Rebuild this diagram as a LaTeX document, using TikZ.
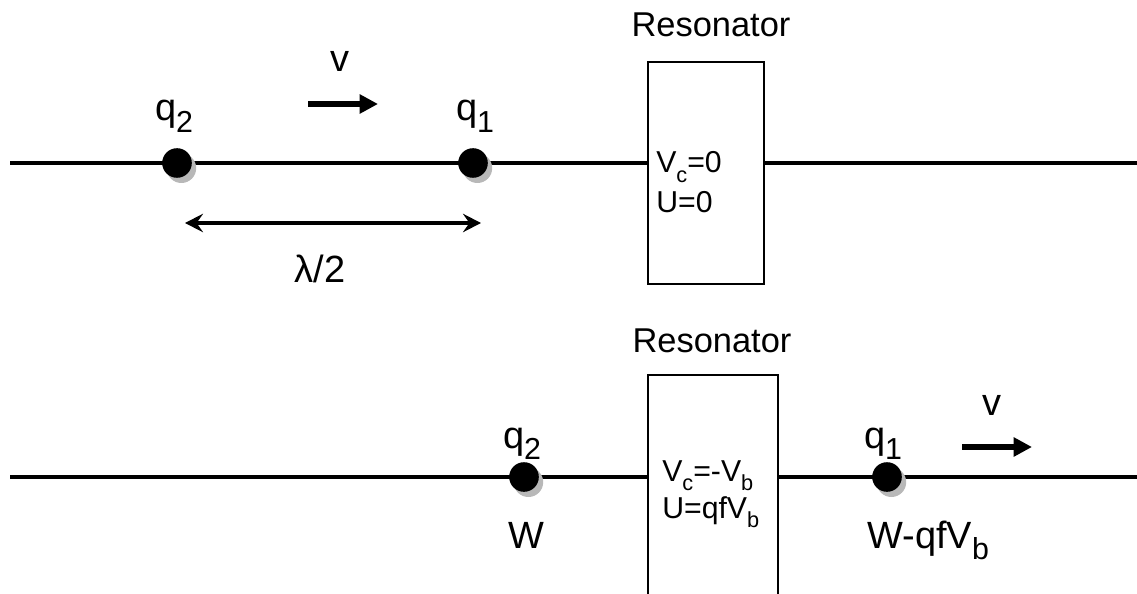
\documentclass[tikz,border=0pt]{standalone}
\usepackage{fontspec}
\setmainfont{Liberation Sans}
\usetikzlibrary{arrows.meta,shadows}
\newcommand{\lowsub}[2][0.8]{\raisebox{-0.3em}{\scalebox{#1}{#2}}}

\begin{document}
\begin{tikzpicture}[>={Stealth[length=4.5mm,width=4.6mm,inset=1.6mm]},font=\fontsize{27}{32}\selectfont,
  beam/.style={line width=3.2pt},
  reso/.style={draw,line width=1.4pt,fill=white,inner sep=0pt,minimum width=#1,minimum height=5.55cm},
  charge/.style={circle,fill=black,inner sep=0pt,minimum size=7.4mm,drop shadow={shadow xshift=1.1mm,shadow yshift=-1.3mm,fill=black!28,opacity=1}},
  vel/.style={-{Triangle[length=4.6mm,width=4.6mm]},line width=4pt},
  txt/.style={anchor=base,inner sep=0pt},
  inbox/.style={anchor=base west,inner sep=0pt,font=\fontsize{21.5}{25}\selectfont}]
\useasboundingbox (0,0) rectangle (28.425,14.825);
\coordinate (la) at (0.25,10.75);
\coordinate (lb) at (28.425,10.75);
\node[reso=2.9cm] (res1) at (17.65,10.5) {};
\draw[beam] (la) -- (la -| res1.west);
\draw[beam] (lb -| res1.east) -- (lb);
\node[charge] (q2a) at (4.425,10.75) {};
\node[charge] (q1a) at (11.825,10.75) {};
\node[txt] (lq2a) at (4.35,11.8) {q\lowsub{2}};
\node[txt] (lq1a) at (11.875,11.8) {q\lowsub{1}};
\coordinate (va) at (7.7,12.225);
\coordinate (vb) at (9.45,12.225);
\draw[vel] (va) -- (vb);
\node[txt] (lva) at (8.5,13.025) {v};
\coordinate (ha) at (4.625,9.25);
\coordinate (hb) at (12.025,9.25);
\draw[<->,line width=2.4pt] (ha) -- (hb);
\node[txt] (lam) at (8.0,7.775) {λ/2};
\node[txt,font=\fontsize{24.5}{29}\selectfont] (tres1) at (17.775,13.9) {Resonator};
\node[inbox] (vc1) at (16.4,10.5) {V\lowsub[0.72]{c}=0};
\node[inbox] (u1) at (16.4,9.525) {U=0};
\coordinate (lc) at (0.25,2.9);
\coordinate (ld) at (28.425,2.9);
\node[reso=3.25cm] (res2) at (17.825,2.675) {};
\draw[beam] (lc) -- (lc -| res2.west);
\draw[beam] (ld -| res2.east) -- (ld);
\node[charge] (q2b) at (13.1,2.9) {};
\node[charge] (q1b) at (22.175,2.9) {};
\node[txt] (lq2b) at (13.05,3.625) {q\lowsub{2}};
\node[txt] (lq1b) at (22.075,3.625) {q\lowsub{1}};
\node[txt] (w2) at (13.15,1.125) {W};
\node[inbox,font=\fontsize{27}{32}\selectfont] (w1) at (21.675,1.125) {W-qfV\lowsub{b}};
\coordinate (vc) at (24.05,3.65);
\coordinate (vd) at (25.8,3.65);
\draw[vel] (vc) -- (vd);
\node[txt] (lvb) at (24.8,4.45) {v};
\node[txt,font=\fontsize{24.5}{29}\selectfont] (tres2) at (17.8,6.025) {Resonator};
\node[inbox] (vc2) at (16.55,2.8) {V\lowsub[0.72]{c}=-V\lowsub[0.72]{b}};
\node[inbox] (u2) at (16.55,1.875) {U=qfV\lowsub[0.72]{b}};
\end{tikzpicture}
\end{document}
